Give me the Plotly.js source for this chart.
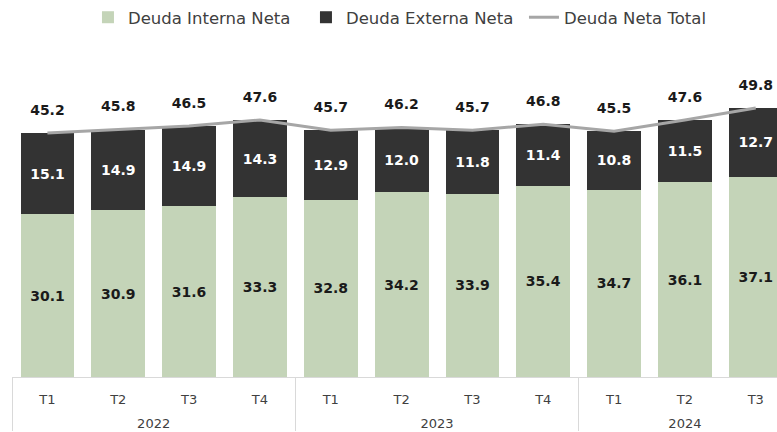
<!DOCTYPE html>
<html>
<head>
<meta charset="utf-8">
<script src="https://cdn.plot.ly/plotly-3.0.1.min.js"></script>
<style>html,body{margin:0;padding:0;background:#fff}#chart{width:777px;height:432px}</style>
</head>
<body>
<div id="chart"></div>
<script>
const years = ['2022','2022','2022','2022','2023','2023','2023','2023','2024','2024','2024'];
const quarters = ['T1','T2','T3','T4','T1','T2','T3','T4','T1','T2','T3'];
const interna = [30.1, 30.9, 31.6, 33.3, 32.8, 34.2, 33.9, 35.4, 34.7, 36.1, 37.1];
const externa = [15.1, 14.9, 14.9, 14.3, 12.9, 12.0, 11.8, 11.4, 10.8, 11.5, 12.7];
const total = [45.2, 45.8, 46.5, 47.6, 45.7, 46.2, 45.7, 46.8, 45.5, 47.6, 49.8];

// second (blank) line only adds room between the quarter and the year rows
const x = [years, quarters.map(q => q + '<br>&nbsp;')];

const traces = [
  {
    type: 'bar', name: 'Deuda Interna Neta', x: x, y: interna,
    marker: {color: '#c4d4b8'},
    text: interna.map(v => '<b>' + v.toFixed(1) + '</b>'),
    textposition: 'inside', insidetextanchor: 'middle', constraintext: 'none',
    textfont: {family: 'DejaVu Sans', size: 14, color: '#1a1a1a'},
    hoverinfo: 'skip'
  },
  {
    type: 'bar', name: 'Deuda Externa Neta', x: x, y: externa,
    marker: {color: '#333333'},
    text: externa.map(v => '<b>' + v.toFixed(1) + '</b>'),
    textposition: 'inside', insidetextanchor: 'middle', constraintext: 'none',
    textfont: {family: 'DejaVu Sans', size: 14, color: '#ffffff'},
    hoverinfo: 'skip'
  },
  {
    type: 'scatter', mode: 'lines+markers+text', name: 'Deuda Neta Total', x: x, y: total,
    line: {color: '#a6a6a6', width: 3},
    marker: {size: 22, color: 'rgba(0,0,0,0)'},
    text: total.map(v => '<b>' + v.toFixed(1) + '</b>'),
    textposition: 'top center',
    textfont: {family: 'DejaVu Sans', size: 14, color: '#1a1a1a'},
    cliponaxis: false,
    hoverinfo: 'skip'
  }
];

const layout = {
  width: 777, height: 432,
  margin: {l: 12, r: 0, t: 60, b: 55},
  paper_bgcolor: '#ffffff', plot_bgcolor: '#ffffff',
  barmode: 'stack', bargap: 0.24,
  showlegend: true,
  legend: {
    orientation: 'h', xref: 'paper', x: 0.0993, xanchor: 'left',
    yref: 'container', y: 1, yanchor: 'top',
    entrywidth: 173, entrywidthmode: 'pixels',
    font: {family: 'DejaVu Sans', size: 16.5, color: '#404040'},
    traceorder: 'normal'
  },
  xaxis: {
    type: 'multicategory', range: [-0.5, 10.3],
    showline: true, linecolor: '#d9d9d9', linewidth: 1,
    showdividers: true, dividercolor: '#d9d9d9', dividerwidth: 1,
    ticks: '', showgrid: false, zeroline: false,
    ticklabelstandoff: 10,
    tickfont: {family: 'DejaVu Sans', size: 13, color: '#404040'}
  },
  yaxis: {
    range: [0, 58.7], visible: false, showgrid: false, zeroline: false
  }
};

Plotly.newPlot('chart', traces, layout, {displayModeBar: false, staticPlot: true});
</script>
</body>
</html>
